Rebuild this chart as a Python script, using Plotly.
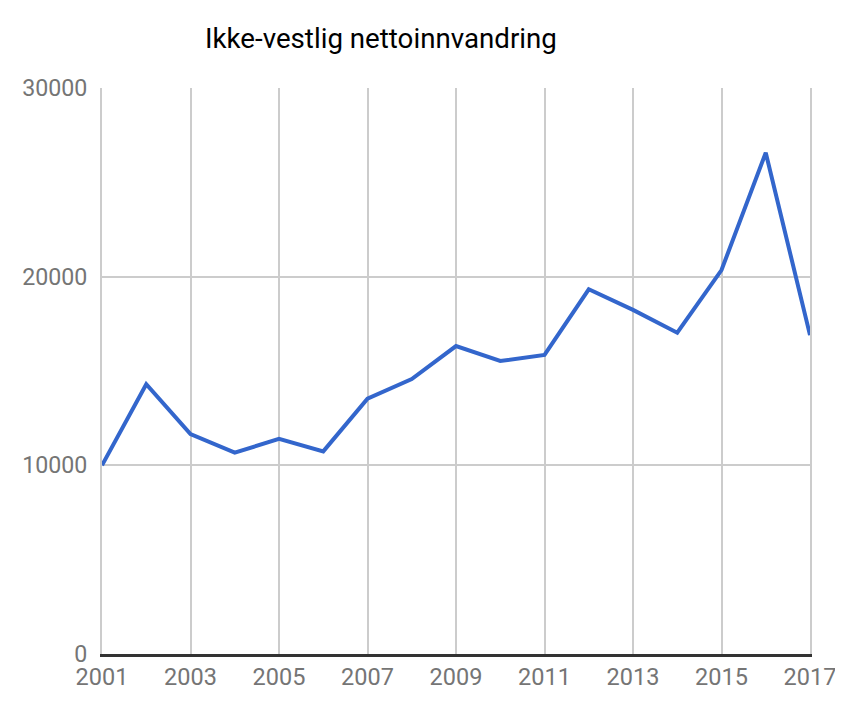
import plotly.graph_objects as go

years = list(range(2001, 2018))
values = [10000, 14300, 11650, 10670, 11400, 10740, 13530, 14570, 16320,
          15530, 15850, 19330, 18240, 17030, 20350, 26570, 16900]
title_text = "Ikke-vestlig nettoinnvandring"

W, H = 835, 693  # page body has an 8px margin

fig = go.Figure()
fig.add_trace(go.Scatter(x=years, y=values, mode="lines",
                         line=dict(color="#3366cc", width=4),
                         hoverinfo="x+y"))

fig.update_layout(
    width=W, height=H,
    margin=dict(l=94, r=33, t=80, b=47, autoexpand=False),
    paper_bgcolor="white", plot_bgcolor="white",
    showlegend=False,
    font=dict(family="Roboto", color="#757575", size=23),
    title=dict(text=title_text, x=197/W, xanchor="left", y=1-30/H, yanchor="middle",
               font=dict(family="Roboto", size=27.7, color="#000000")),
)
fig.update_xaxes(range=[2001, 2017], tick0=2001, dtick=2, showgrid=True,
                 gridcolor="#cccccc", gridwidth=2, showline=True, linecolor="#333333",
                 linewidth=3, ticks="", ticklabelstandoff=0, zeroline=False,
                 ticklabeloverflow="allow", automargin=False,
                 tickfont=dict(family="Roboto", size=23.5, color="#757575"))
fig.update_yaxes(range=[0, 30000], dtick=10000, showgrid=True, gridcolor="#cccccc",
                 gridwidth=2, zeroline=False, ticks="", ticklabelstandoff=8,
                 showline=True, mirror=True, linecolor="#cccccc", linewidth=2,
                 tickformat="d", automargin=False,
                 tickfont=dict(family="Roboto", size=23.2, color="#757575"))

fig.write_html("out.html")
